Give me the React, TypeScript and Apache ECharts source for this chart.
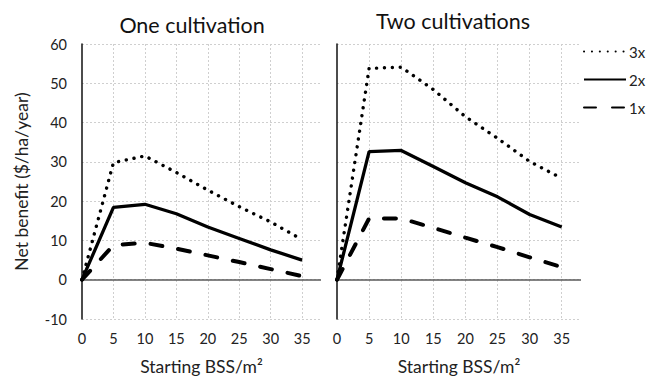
import React, { useEffect, useRef } from 'react';
import * as echarts from 'echarts';

// x positions (Starting BSS/m²)
const xValues = [0, 5, 10, 15, 20, 25, 30, 35];
const xAxisMax = 38;
const xLabelStep = 5;
const yMin = -10;
const yMax = 60;
const yStep = 10;

// One cultivation
const oneCult3x = [0, 29.8, 31.5, 27.3, 22.8, 18.6, 14.7, 10.2];
const oneCult2x = [0, 18.4, 19.2, 16.8, 13.4, 10.5, 7.6, 5.0];
const oneCult1x = [0, 8.8, 9.4, 7.9, 6.2, 4.5, 2.7, 0.9];

// Two cultivations
const twoCult3x = [0, 53.8, 54.1, 48.4, 41.5, 36.0, 30.1, 25.8];
const twoCult2x = [0, 32.6, 32.9, 28.8, 24.7, 21.1, 16.6, 13.4];
const twoCult1x = [0, 15.6, 15.6, 13.2, 10.7, 8.3, 5.7, 3.2];

const seriesNames = ['3x', '2x', '1x'];
const panelTitles = ['One cultivation', 'Two cultivations'];
const xAxisTitle = 'Starting BSS/m²';
const yAxisTitle = 'Net benefit ($/ha/year)';

const FONT = 'Lato';
const TEXT = '#222';

const categories = Array.from({ length: xAxisMax + 1 }, (_, i) => String(i));

const styles: Record<string, any> = {
  '3x': { color: '#000', width: 3.4, type: [0.1, 7.8], cap: 'round' },
  '2x': { color: '#000', width: 3.3, type: 'solid', cap: 'butt' },
  '1x': { color: '#000', width: 4, type: [12, 16], cap: 'round' },
};

function pairs(vals: number[]) {
  return xValues.map((x, i) => [x, vals[i]]);
}

export default function App() {
  const ref = useRef<HTMLDivElement>(null);
  useEffect(() => {
    const chart = echarts.init(ref.current!, null, { renderer: 'svg' });
    const showEvery = (i: number) => i % xLabelStep === 0;
    const gridsDef = [
      { left: 82, top: 44, width: 239, height: 275, outerBoundsMode: 'none', containLabel: false },
      { left: 337, top: 44, width: 244, height: 275, outerBoundsMode: 'none', containLabel: false },
    ];
    const xAxes = gridsDef.map((_, gi) => ({
      type: 'category',
      gridIndex: gi,
      data: categories,
      boundaryGap: false,
      axisLine: { show: false },
      axisTick: { show: false },
      axisLabel: {
        interval: (i: number) => showEvery(i),
        margin: 12,
        fontSize: 14.5,
        color: TEXT,
        fontFamily: FONT,
      },
      splitLine: {
        show: true,
        interval: (i: number) => showEvery(i) && i > 0,
        lineStyle: { color: '#cfcfcf', type: [2, 2], width: 1 },
      },
      name: xAxisTitle,
      nameLocation: 'middle',
      nameGap: 38,
      nameTextStyle: { fontSize: 17.5, color: TEXT, fontFamily: FONT },
    }));
    const yAxes = gridsDef.map((_, gi) => ({
      type: 'value',
      gridIndex: gi,
      min: yMin,
      max: yMax,
      interval: yStep,
      axisLine: { show: true, onZero: false, lineStyle: { color: '#111', width: 1.5 } },
      axisTick: { show: false },
      axisLabel: {
        show: gi === 0,
        margin: 15,
        fontSize: 14.5,
        color: TEXT,
        fontFamily: FONT,
      },
      splitLine: { show: true, lineStyle: { color: '#cfcfcf', type: [2, 2], width: 1 } },
      name: gi === 0 ? yAxisTitle : '',
      nameLocation: 'middle',
      nameGap: 52,
      nameTextStyle: { fontSize: 17.5, color: TEXT, fontFamily: FONT },
    }));
    const panelData = [
      [oneCult3x, oneCult2x, oneCult1x],
      [twoCult3x, twoCult2x, twoCult1x],
    ];
    const series: any[] = [];
    panelData.forEach((set, gi) => {
      set.forEach((vals, si) => {
        const name = seriesNames[si];
        series.push({
          type: 'line',
          name,
          xAxisIndex: gi,
          yAxisIndex: gi,
          data: pairs(vals),
          symbol: 'none',
          showSymbol: false,
          lineStyle: styles[name],
          itemStyle: { color: '#000' },
          z: 3,
          markLine:
            si === 0
              ? {
                  silent: true,
                  symbol: 'none',
                  label: { show: false },
                  lineStyle: { color: '#5a5a5a', type: 'solid', width: 1.5 },
                  data: [{ yAxis: 0 }],
                  z: 1,
                }
              : undefined,
        });
      });
    });
    const option: any = {
      animation: false,
      textStyle: { fontFamily: FONT },
      title: [
        {
          text: panelTitles[0],
          left: 192,
          top: 14,
          textAlign: 'center',
          padding: 0,
          textStyle: { fontSize: 21.5, fontWeight: 'normal', color: '#111', fontFamily: FONT },
        },
        {
          text: panelTitles[1],
          left: 453,
          top: 10,
          textAlign: 'center',
          padding: 0,
          textStyle: { fontSize: 21.5, fontWeight: 'normal', color: '#111', fontFamily: FONT },
        },
      ],
      legend: {
        data: seriesNames,
        orient: 'vertical',
        left: 583,
        top: 44,
        padding: 0,
        itemWidth: 42,
        itemHeight: 14,
        itemGap: 13,
        itemStyle: { opacity: 0 },
        textStyle: { fontSize: 15, color: TEXT, fontFamily: FONT, padding: [0, 0, 0, -2] },
      },
      grid: gridsDef,
      xAxis: xAxes,
      yAxis: yAxes,
      series,
    };
    chart.setOption(option);
    return () => chart.dispose();
  }, []);
  return (
    <div
      ref={ref}
      style={{ position: 'fixed', left: 0, top: 0, width: 648, height: 378, background: '#fff' }}
    />
  );
}
